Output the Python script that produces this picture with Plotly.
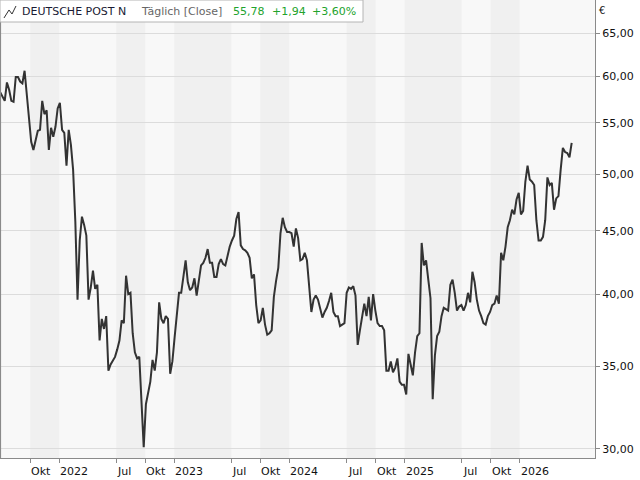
import pandas as pd
import plotly.graph_objects as go

# ---- data (weekly closes, EUR) ----
start_date = "2021-06-28"
close = [
    58.2, 57.8, 57.3, 59.3, 58.5, 57.3, 57.2, 59.9, 59.9, 59.4,
    59.2, 60.6, 57.7, 55.1, 53.1, 52.3, 53.4, 54.2, 54.3, 57.3,
    55.9, 56.3, 52.3, 54.5, 53.6, 54.6, 56.5, 57.1, 54.3, 54.0,
    50.8, 54.3, 52.8, 50.4, 45.8, 39.6, 44.2, 46.2, 45.5, 44.6,
    39.6, 40.5, 41.8, 40.4, 40.7, 36.7, 38.2, 37.5, 38.4, 34.7,
    35.1, 35.4, 35.6, 36.1, 36.7, 38.1, 37.9, 41.4, 40.0, 40.1,
    37.2, 35.9, 35.5, 35.6, 32.9, 30.1, 32.6, 33.3, 34.0, 35.4,
    34.7, 35.9, 39.4, 38.2, 37.9, 38.4, 38.2, 34.5, 35.3, 36.9,
    38.4, 40.1, 40.1, 41.3, 42.6, 40.9, 40.3, 40.5, 41.2, 39.9,
    40.9, 42.2, 42.4, 42.8, 43.5, 42.4, 42.4, 41.3, 41.3, 42.3,
    42.7, 42.3, 42.2, 43.1, 43.7, 44.2, 44.6, 46.0, 46.6, 43.8,
    43.5, 43.4, 43.2, 42.8, 41.2, 41.5, 39.2, 37.9, 38.1, 39.0,
    37.8, 37.1, 37.2, 37.4, 39.8, 41.0, 42.0, 44.8, 46.1, 45.3,
    44.9, 44.9, 44.8, 43.7, 45.2, 44.4, 42.6, 42.7, 43.2, 42.6,
    40.3, 38.7, 39.6, 39.9, 39.6, 38.9, 38.3, 38.7, 39.0, 39.5,
    40.1, 38.7, 38.4, 38.4, 37.7, 37.8, 37.9, 40.1, 40.5, 40.4,
    40.6, 39.9, 36.4, 37.4, 38.4, 39.3, 38.4, 39.8, 38.1, 40.0,
    38.8, 37.9, 37.7, 37.7, 37.4, 34.7, 34.7, 35.3, 34.6, 34.9,
    35.5, 34.0, 33.8, 33.8, 33.2, 35.8, 35.1, 34.4, 35.9, 37.0,
    37.2, 44.0, 42.2, 42.6, 41.1, 39.7, 32.9, 35.7, 37.0, 37.3,
    38.4, 39.0, 38.9, 38.8, 40.7, 41.1, 40.1, 38.8, 39.1, 39.2,
    38.8, 39.2, 40.1, 39.4, 41.7, 40.9, 39.6, 38.8, 38.4, 37.9,
    37.8, 38.4, 38.7, 39.2, 39.3, 39.9, 39.3, 43.2, 42.6, 43.7,
    45.3, 45.9, 46.8, 46.4, 47.7, 48.3, 46.4, 46.7, 49.3, 50.8,
    49.5, 49.3, 49.0, 45.9, 44.2, 44.2, 44.5, 45.9, 49.7, 49.0,
    49.2, 46.8, 47.8, 48.0, 50.4, 52.5, 52.1, 52.0, 51.6, 53.0,
]
dates = pd.date_range(start_date, periods=len(close), freq="7D")

x_tick_dates = ["2021-10-01", "2022-01-01", "2022-07-01", "2022-10-01",
                "2023-01-01", "2023-07-01", "2023-10-01", "2024-01-01",
                "2024-07-01", "2024-10-01", "2025-01-01", "2025-07-01",
                "2025-10-01", "2026-01-01"]
x_tick_labels = ["Okt", "2022", "Jul", "Okt", "2023", "Jul", "Okt", "2024",
                 "Jul", "Okt", "2025", "Jul", "Okt", "2026"]
y_tick_vals = [30, 35, 40, 45, 50, 55, 60, 65]
y_tick_labels = ["30,00", "35,00", "40,00", "45,00", "50,00", "55,00", "60,00", "65,00"]

title_name = "DEUTSCHE POST N"
title_mode = "Täglich [Close]"
last_value = "55,78"
change_abs = "+1,94"
change_pct = "+3,60%"

# ---- layout geometry ----
W, H = 640, 480
PW, PH = 595, 458  # plot area in px
FONT = "DejaVu Sans"


def px(xp):
    return xp / PW


def py(yp):
    return 1 - yp / PH


fig = go.Figure()
fig.add_trace(go.Scatter(x=dates, y=close, mode="lines",
                         line=dict(color="#333333", width=2),
                         hoverinfo="skip", showlegend=False))

shapes = []
# alternating background bands between ticks
for i in range(0, len(x_tick_dates) - 1, 2):
    shapes.append(dict(type="rect", xref="x", yref="paper",
                       x0=x_tick_dates[i], x1=x_tick_dates[i + 1], y0=0, y1=1,
                       fillcolor="#f0f0f0", line=dict(width=0), layer="below"))
# left border
shapes.append(dict(type="line", xref="paper", yref="paper", x0=0.0008, x1=0.0008,
                   y0=0, y1=1, line=dict(color="#8a8a8a", width=1.2)))
# header box
shapes.append(dict(type="rect", xref="paper", yref="paper",
                   x0=0, x1=px(363), y0=py(22), y1=1,
                   fillcolor="white", line=dict(color="#b4b4b4", width=1), layer="above"))
# header icon
pts = [(4, 18), (9, 10), (12, 14), (16, 6)]
path = "M " + " L ".join(f"{px(a):.5f},{py(b):.5f}" for a, b in pts)
shapes.append(dict(type="path", xref="paper", yref="paper", path=path,
                   line=dict(color="#333333", width=1)))

annotations = []
for d, lab in zip(x_tick_dates, x_tick_labels):
    annotations.append(dict(x=d, xref="x", y=py(462.5), yref="paper",
                            text=lab, showarrow=False, xanchor="left", yanchor="top",
                            xshift=-1, font=dict(family=FONT, size=11, color="#111111")))

hdr = [(21, title_name, "#1a1a33"), (140, title_mode, "#666666"),
       (232, last_value, "#22a32c"), (271, change_abs, "#22a32c"),
       (311, change_pct, "#22a32c")]
for xp, txt, col in hdr:
    annotations.append(dict(x=px(xp), xref="paper", y=py(11.5), yref="paper",
                            text=txt, showarrow=False, xanchor="left", yanchor="middle",
                            xshift=-1, font=dict(family=FONT, size=11, color=col)))

annotations.append(dict(x=px(597), xref="paper", y=py(10), yref="paper", text="€",
                        showarrow=False, xanchor="left", yanchor="middle",
                        font=dict(family=FONT, size=10, color="#111111")))

fig.update_layout(
    width=W, height=H,
    margin=dict(l=0, r=W - PW, t=0, b=H - PH),
    paper_bgcolor="white", plot_bgcolor="#f8f8f8",
    shapes=shapes, annotations=annotations,
    showlegend=False,
    xaxis=dict(type="date", range=["2021-06-27", "2026-08-28"],
               tickvals=x_tick_dates, showticklabels=False,
               ticks="outside", ticklen=4, tickcolor="#8a8a8a",
               showgrid=False, zeroline=False,
               showline=True, linecolor="#8a8a8a", linewidth=1.2),
    yaxis=dict(type="log", side="right", range=[1.4698, 1.8396],
               tickvals=y_tick_vals, ticktext=y_tick_labels,
               ticks="outside", ticklen=4, tickcolor="#8a8a8a",
               tickfont=dict(family=FONT, size=11, color="#111111"),
               showgrid=True, gridcolor="#dcdcdc", gridwidth=1,
               zeroline=False, showline=True, linecolor="#8a8a8a", linewidth=1.2),
)

fig.write_html("out.html")
